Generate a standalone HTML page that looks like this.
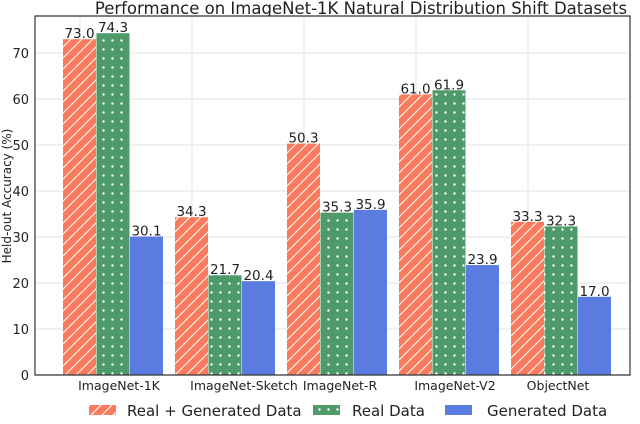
<!DOCTYPE html><html><head><style>body{margin:0;background:#fff}svg{font-family:"DejaVu Sans","Liberation Sans",sans-serif}</style></head><body>
<svg id="c" width="640" height="419">
<defs>
<pattern id="hatch" width="11" height="11" patternUnits="userSpaceOnUse"><rect width="11" height="11" fill="#fa7a5d"/><path d="M-2,13 L13,-2 M-2,2 L2,-2 M9,13 L13,9" stroke="#fff" stroke-width="1"/></pattern>
<pattern id="dots" width="9" height="9" patternUnits="userSpaceOnUse"><rect width="9" height="9" fill="#4e9a6b"/><circle cx="4.5" cy="4.5" r="1.2" fill="#fff"/></pattern>
</defs>
<text x="361" y="14" font-size="16.5" text-anchor="middle" fill="#222">Performance on ImageNet-1K Natural Distribution Shift Datasets</text>
<text transform="translate(11,196) rotate(-90)" font-size="12" text-anchor="middle" fill="#222">Held-out Accuracy (%)</text>
<g id="plot"></g>
</svg>
<script>
const categories=["ImageNet-1K","ImageNet-Sketch","ImageNet-R","ImageNet-V2","ObjectNet"];
const realGen=[73.0,34.3,50.3,61.0,33.3];
const realData=[74.3,21.7,35.3,61.9,32.3];
const genData=[30.1,20.4,35.9,23.9,17.0];
const yTicks=[0,10,20,30,40,50,60,70];
const labelX=[119,244,340,455,558];
const NS="http://www.w3.org/2000/svg";
const g=document.getElementById('plot');
const L=35,R=630,T=16,B=375;
const y=v=>B-v*4.6;
function mk(t,a,p){const e=document.createElementNS(NS,t);for(const k in a)e.setAttribute(k,a[k]);(p||g).appendChild(e);return e;}
mk('rect',{x:L,y:T,width:R-L,height:B-T,fill:'#fff'});
yTicks.forEach(v=>{
const l=mk('line',{x1:L,x2:R,y1:y(v),y2:y(v),stroke:'#e3e3e3'});


const t=mk('text',{x:L-6,y:y(v)+5,'font-size':13,'text-anchor':'end',fill:'#222'});t.textContent=v;


});
[80,192,304,416,528].forEach(x=>mk('line',{x1:x,x2:x,y1:T,y2:B,stroke:'#e3e3e3'}));
const series=[[realGen,'url(#hatch)','real-generated'],[realData,'url(#dots)','real'],[genData,'#5a7be0','generated']];
const bw=33;
categories.forEach((c,i)=>{
const x0=63+i*112;
series.forEach((s,j)=>{
const v=s[0][i];const x=x0+j*(bw+0.5);
const r=mk('rect',{x:x,y:y(v),width:bw,height:B-y(v),fill:s[1]});


const t=mk('text',{x:x+bw/2,y:y(v)-1,'font-size':13.5,'text-anchor':'middle',fill:'#222'});t.textContent=v.toFixed(1);


});
const t=mk('text',{x:labelX[i],y:390,'font-size':12.5,'text-anchor':'middle',fill:'#222'});t.textContent=c;


});
mk('path',{d:`M${L},${T}V${B}H${R}V${T}Z`,fill:'none',stroke:'#333','stroke-width':1.2});
const leg=[[89,127,'Real + Generated Data'],[313,352,'Real Data'],[445,487,'Generated Data']];
leg.forEach((l,j)=>{
const r=mk('rect',{x:l[0],y:405,width:27,height:10,fill:series[j][1]});


const t=mk('text',{x:l[1],y:416,'font-size':15,fill:'#222'});t.textContent=l[2];


});
</script>
</body></html>
